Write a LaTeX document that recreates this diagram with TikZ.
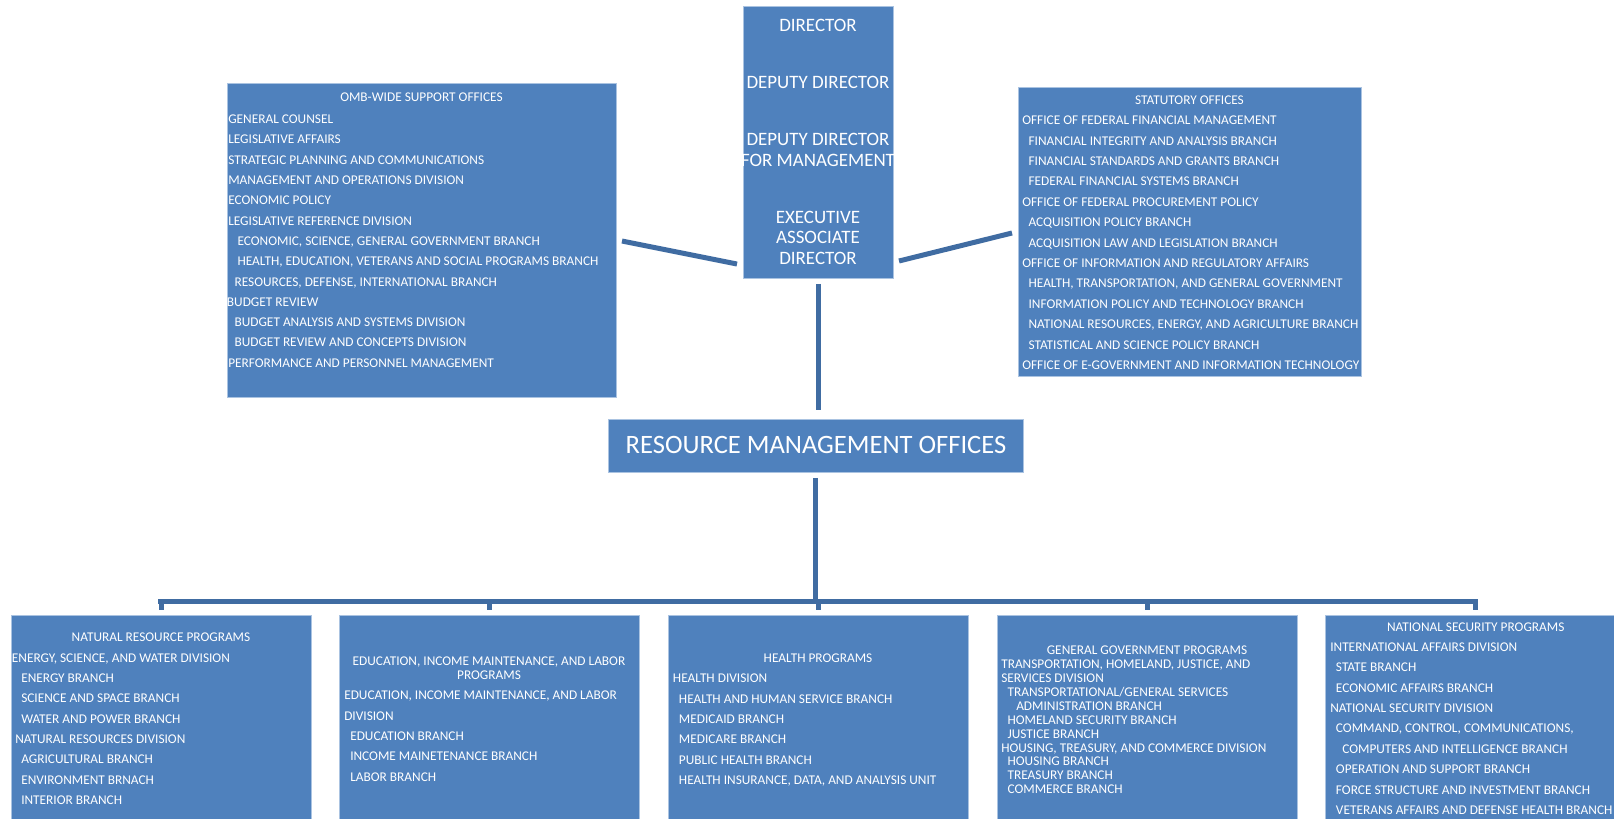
\documentclass[tikz,border=0pt]{standalone}
\usepackage{fontspec}
\setmainfont{Carlito}
\usetikzlibrary{calc}
\definecolor{boxblue}{RGB}{79,129,189}
\definecolor{boxedge}{RGB}{170,195,225}
\definecolor{linkblue}{RGB}{64,108,162}
\begin{document}
\begin{tikzpicture}[x=0.75pt,y=-0.75pt,
  box/.style 2 args={draw=boxedge, line width=0.6pt, fill=boxblue, inner sep=0pt,
    anchor=north west, minimum width=#1*0.75pt, minimum height=#2*0.75pt},
  txt/.style={text=white, inner sep=0pt, anchor=base west, yshift=-0.6pt, font=\fontsize{10}{11}\selectfont},
  hdr/.style={txt, anchor=base},
  big/.style={text=white, inner sep=0pt, anchor=base, yshift=-0.7pt, font=\fontsize{14.2}{16}\selectfont},
  huge/.style={text=white, inner sep=0pt, anchor=base, yshift=-0.7pt, font=\fontsize{19.9}{22}\selectfont},
  link/.style={draw=linkblue, line width=3.75pt}
]
\useasboundingbox (0,0) rectangle (1614,818);
\fill[white] (0,0) rectangle (1614,818);

% ---------- boxes ----------
\node[box={150}{272}] (dir) at (743,6) {};
\node[box={389}{314}] (omb) at (227,83) {};
\node[box={343}{289}] (stat) at (1018,87) {};
\node[box={415}{53}] (rmo) at (608,419) {};
\node[box={300}{215}] (b1) at (11,615) {};
\node[box={300}{215}] (b2) at (339,615) {};
\node[box={300}{215}] (b3) at (668,615) {};
\node[box={300}{215}] (b4) at (997,615) {};
\node[box={300}{215}] (b5) at (1325,615) {};

% ---------- director ----------
\node[big] (d1) at (818,30.4) {DIRECTOR};
\node[big] (d2) at (818,87.1) {DEPUTY DIRECTOR};
\node[big] (d3) at (818,144.7) {DEPUTY DIRECTOR};
\node[big] (d4) at (818,165.4) {FOR MANAGEMENT};
\node[big] (d5) at (818,222.7) {EXECUTIVE};
\node[big] (d6) at (818,242.7) {ASSOCIATE};
\node[big] (d7) at (818,263.1) {DIRECTOR};

% ---------- RMO ----------
\node[huge] (rmot) at (816,452.6) {RESOURCE MANAGEMENT OFFICES};

% ---------- OMB-wide ----------
\begin{scope}
\clip (omb.south west) rectangle (omb.north east);
\node[hdr] (ombh) at (421.5,101.1) {OMB-WIDE SUPPORT OFFICES};
\foreach \dx/\t [count=\i] in {0/{GENERAL COUNSEL},0/{LEGISLATIVE AFFAIRS},
  0/{STRATEGIC PLANNING AND COMMUNICATIONS},0/{MANAGEMENT AND OPERATIONS DIVISION},
  0/{ECONOMIC POLICY},0/{LEGISLATIVE REFERENCE DIVISION},
  9.3/{ECONOMIC, SCIENCE, GENERAL GOVERNMENT BRANCH},
  9.3/{HEALTH, EDUCATION, VETERANS AND SOCIAL PROGRAMS BRANCH},
  6.3/{RESOURCES, DEFENSE, INTERNATIONAL BRANCH},-1.3/{BUDGET REVIEW},
  6.3/{BUDGET ANALYSIS AND SYSTEMS DIVISION},6.3/{BUDGET REVIEW AND CONCEPTS DIVISION},
  0/{PERFORMANCE AND PERSONNEL MANAGEMENT}}
  \node[txt] (omb\i) at ({228+\dx},{122.8+(\i-1)*20.3}) {\t};
\end{scope}

% ---------- statutory ----------
\begin{scope}
\clip (stat.south west) rectangle (stat.north east);
\node[hdr] (stath) at (1189.5,103.8) {STATUTORY OFFICES};
\foreach \dx/\t [count=\i] in {0/{OFFICE OF FEDERAL FINANCIAL MANAGEMENT},
  6.3/{FINANCIAL INTEGRITY AND ANALYSIS BRANCH},6.3/{FINANCIAL STANDARDS AND GRANTS BRANCH},
  6.3/{FEDERAL FINANCIAL SYSTEMS BRANCH},0/{OFFICE OF FEDERAL PROCUREMENT POLICY},
  6.3/{ACQUISITION POLICY BRANCH},6.3/{ACQUISITION LAW AND LEGISLATION BRANCH},
  0/{OFFICE OF INFORMATION AND REGULATORY AFFAIRS},
  6.3/{HEALTH, TRANSPORTATION, AND GENERAL GOVERNMENT},
  6.3/{INFORMATION POLICY AND TECHNOLOGY BRANCH},
  6.3/{NATIONAL RESOURCES, ENERGY, AND AGRICULTURE BRANCH},
  6.3/{STATISTICAL AND SCIENCE POLICY BRANCH},
  0/{OFFICE OF E-GOVERNMENT AND INFORMATION TECHNOLOGY}}
  \node[txt] (stat\i) at ({1022+\dx},{123.8+(\i-1)*20.42}) {\t};
\end{scope}

% ---------- bottom boxes ----------
\begin{scope}
\clip (b1.south west) rectangle (b1.north east);
\node[hdr] (b1h) at (161,640.5) {NATURAL RESOURCE PROGRAMS};
\foreach \dx/\t [count=\i] in {0/{ENERGY, SCIENCE, AND WATER DIVISION},
  9.3/{ENERGY BRANCH},9.3/{SCIENCE AND SPACE BRANCH},9.3/{WATER AND POWER BRANCH},
  3.3/{NATURAL RESOURCES DIVISION},9.3/{AGRICULTURAL BRANCH},
  9.3/{ENVIRONMENT BRNACH},9.3/{INTERIOR BRANCH}}
  \node[txt] (b1l\i) at ({11.7+\dx},{661.5+(\i-1)*20.33}) {\t};
\end{scope}

\begin{scope}
\clip (b2.south west) rectangle (b2.north east);
\node[hdr] (b2h) at (489,664.8) {EDUCATION, INCOME MAINTENANCE, AND LABOR};
\node[hdr] (b2g) at (489,678.8) {PROGRAMS};
\foreach \dx/\t [count=\i] in {0/{EDUCATION, INCOME MAINTENANCE, AND LABOR},
  0/{DIVISION},6/{EDUCATION BRANCH},6/{INCOME MAINETENANCE BRANCH},6/{LABOR BRANCH}}
  \node[txt] (b2l\i) at ({344+\dx},{698.8+(\i-1)*20.4}) {\t};
\end{scope}

\begin{scope}
\clip (b3.south west) rectangle (b3.north east);
\node[hdr] (b3h) at (818,661.5) {HEALTH PROGRAMS};
\foreach \dx/\t [count=\i] in {0/{HEALTH DIVISION},6/{HEALTH AND HUMAN SERVICE BRANCH},
  6/{MEDICAID BRANCH},6/{MEDICARE BRANCH},6/{PUBLIC HEALTH BRANCH},
  6/{HEALTH INSURANCE, DATA, AND ANALYSIS UNIT}}
  \node[txt] (b3l\i) at ({672.7+\dx},{681.8+(\i-1)*20.4}) {\t};
\end{scope}

\begin{scope}
\clip (b4.south west) rectangle (b4.north east);
\node[hdr] (b4h) at (1147,653.8) {GENERAL GOVERNMENT PROGRAMS};
\foreach \dx/\t [count=\i] in {0/{TRANSPORTATION, HOMELAND, JUSTICE, AND},
  0/{SERVICES DIVISION},6.3/{TRANSPORTATIONAL/GENERAL SERVICES},
  15/{ADMINISTRATION BRANCH},6.3/{HOMELAND SECURITY BRANCH},6.3/{JUSTICE BRANCH},
  0/{HOUSING, TREASURY, AND COMMERCE DIVISION},6.3/{HOUSING BRANCH},
  6.3/{TREASURY BRANCH},6.3/{COMMERCE BRANCH}}
  \node[txt] (b4l\i) at ({1001+\dx},{668.1+(\i-1)*13.86}) {\t};
\end{scope}

\begin{scope}
\clip (b5.south west) rectangle (b5.north east);
\node[hdr] (b5h) at (1475.7,630.5) {NATIONAL SECURITY PROGRAMS};
\foreach \dx/\t [count=\i] in {0/{INTERNATIONAL AFFAIRS DIVISION},5.7/{STATE BRANCH},
  5.7/{ECONOMIC AFFAIRS BRANCH},0/{NATIONAL SECURITY DIVISION},
  5.7/{COMMAND, CONTROL, COMMUNICATIONS,},12/{COMPUTERS AND INTELLIGENCE BRANCH},
  5.7/{OPERATION AND SUPPORT BRANCH},5.7/{FORCE STRUCTURE AND INVESTMENT BRANCH},
  5.7/{VETERANS AFFAIRS AND DEFENSE HEALTH BRANCH}}
  \node[txt] (b5l\i) at ({1330+\dx},{650.5+(\i-1)*20.41}) {\t};
\end{scope}

% ---------- connectors ----------
\coordinate (ombL) at (622,241);
\coordinate (dirL) at (737,264);
\coordinate (dirR) at (899,261);
\coordinate (statL) at (1012,233);
\coordinate (busL) at (158,601);
\coordinate (busR) at (1478,601);
\draw[link] (ombL) -- (dirL);
\draw[link] (dirR) -- (statL);
\draw[link] ([yshift=-3.75pt]dir.south) -- ([yshift=6.75pt]dir.south |- rmo.north);
\draw[link] ([yshift=-3.75pt]rmo.south) -- (rmo.south |- busL);
\draw[link] (busL) -- (busR);
\foreach \b in {b1,b2,b3,b4,b5}
  \draw[link] (\b.north |- busL) -- ([yshift=3.75pt]\b.north);
\end{tikzpicture}
\end{document}
